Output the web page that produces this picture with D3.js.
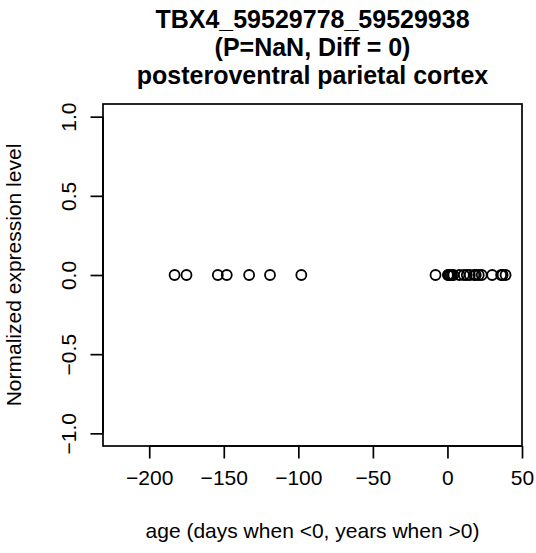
<!DOCTYPE html>
<html>
<head>
<meta charset="utf-8">
<script src="https://cdn.jsdelivr.net/npm/d3@7"></script>
<style>
  html, body { margin: 0; padding: 0; background: #fff; }
  svg { display: block; font-family: "Liberation Sans", Arial, sans-serif; }
</style>
</head>
<body>
<svg id="chart" width="536" height="553"></svg>
<script>
// ---- data ----
const titleLines = ["TBX4_59529778_59529938", "(P=NaN, Diff = 0)", "posteroventral parietal cortex"];
const xLabel = "age (days when <0, years when >0)";
const yLabel = "Normalized expression level";
const ages = [-183, -175, -154, -148, -133, -119, -98,
              -8, 0.3, 1, 2, 3, 4, 8, 11, 13, 15, 18, 19, 21, 23, 30, 36, 37, 39];
const expression = ages.map(() => 0);
const xTicks = [-200, -150, -100, -50, 0, 50];
const yTicks = [-1.0, -0.5, 0.0, 0.5, 1.0];
const xDomain = [-231, 50];
const yDomain = [-1.08, 1.08];

// ---- layout ----
const svg = d3.select("#chart");
const plot = { left: 103, right: 522, top: 104, bottom: 446 };
const x = d3.scaleLinear().domain(xDomain).range([plot.left, plot.right]);
const y = d3.scaleLinear().domain(yDomain).range([plot.bottom, plot.top]);
const fmtY = d => d3.format(".1f")(d).replace("-", "\u2212");
const fmtX = d => String(d).replace("-", "\u2212");
const fs = 21;
const lw = 1.7;

// box
svg.append("rect")
  .attr("x", plot.left).attr("y", plot.top)
  .attr("width", plot.right - plot.left).attr("height", plot.bottom - plot.top)
  .attr("fill", "none").attr("stroke", "#000").attr("stroke-width", lw);

// x axis
const xAxis = svg.append("g")
  .attr("transform", `translate(0,${plot.bottom})`)
  .call(d3.axisBottom(x).tickValues(xTicks).tickSize(12.5).tickPadding(12).tickFormat(fmtX));
xAxis.select(".domain").attr("d", `M${x(xTicks[0])},0H${x(xTicks[xTicks.length-1])}`).attr("stroke-width", lw);
xAxis.selectAll(".tick line").attr("stroke-width", lw);
xAxis.selectAll("text").attr("font-size", fs).attr("font-family", "Liberation Sans, Arial, sans-serif").attr("fill", "#000");

// y axis
const yAxis = svg.append("g")
  .attr("transform", `translate(${plot.left},0)`)
  .call(d3.axisLeft(y).tickValues(yTicks).tickSize(12.5).tickFormat(fmtY));
yAxis.select(".domain").attr("d", `M0,${y(yTicks[0])}V${y(yTicks[yTicks.length-1])}`).attr("stroke-width", lw);
yAxis.selectAll(".tick line").attr("stroke-width", lw);
yAxis.selectAll("text")
  .attr("font-size", fs).attr("font-family", "Liberation Sans, Arial, sans-serif").attr("fill", "#000")
  .attr("x", null).attr("dy", null)
  .attr("text-anchor", "middle")
  .attr("transform", "translate(-27,0) rotate(-90)");

// points
svg.append("g").selectAll("circle")
  .data(ages)
  .join("circle")
  .attr("cx", d => x(d))
  .attr("cy", (d, i) => y(expression[i]))
  .attr("r", 5)
  .attr("fill", "none")
  .attr("stroke", "#000")
  .attr("stroke-width", 1.8);

// titles
const cx = (plot.left + plot.right) / 2;
svg.append("g").selectAll("text")
  .data(titleLines)
  .join("text")
  .attr("x", cx)
  .attr("y", (d, i) => 28 + i * 28)
  .attr("text-anchor", "middle")
  .attr("font-size", 25)
  .attr("font-weight", "bold")
  .text(d => d);

svg.append("text")
  .attr("x", cx).attr("y", 538)
  .attr("text-anchor", "middle")
  .attr("font-size", fs)
  .text(xLabel);

svg.append("text")
  .attr("transform", `translate(21,${(plot.top + plot.bottom) / 2}) rotate(-90)`)
  .attr("text-anchor", "middle")
  .attr("font-size", fs)
  .text(yLabel);
</script>
</body>
</html>
